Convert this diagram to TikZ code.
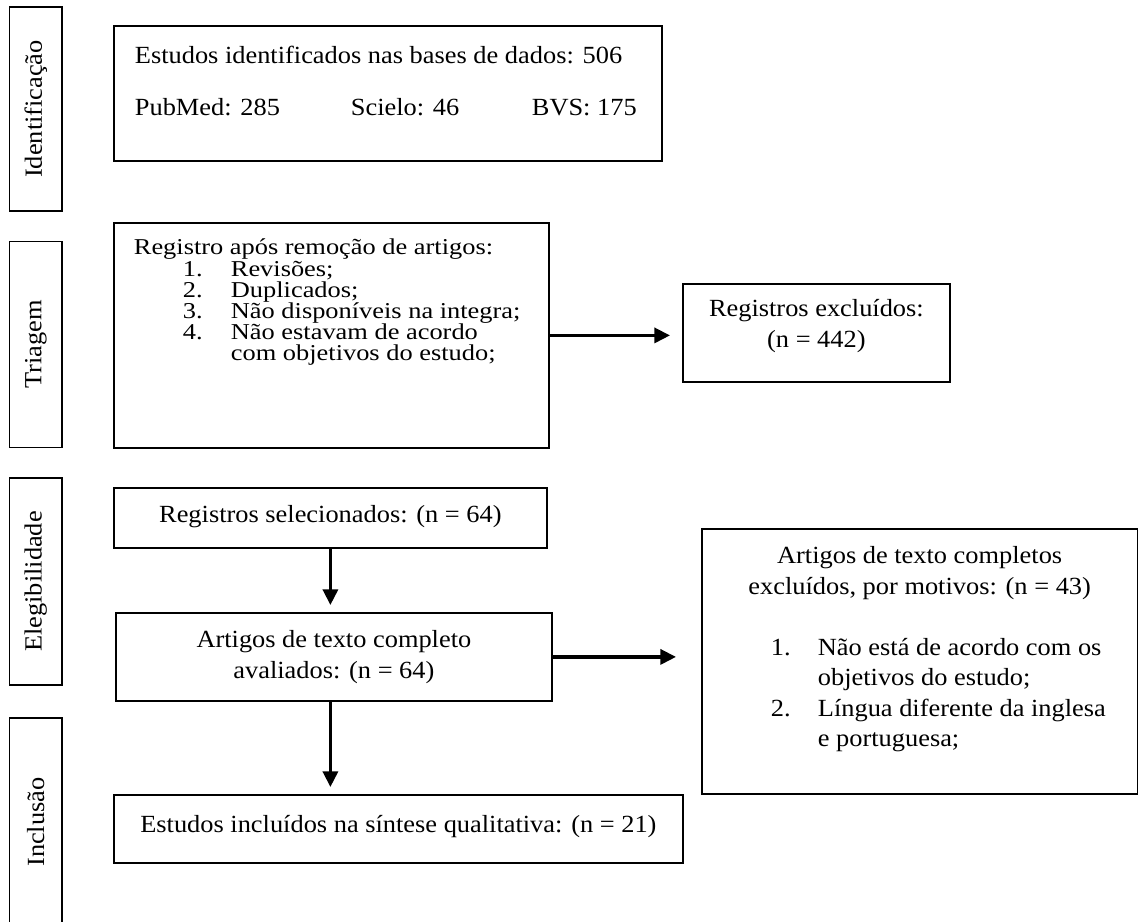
\documentclass[tikz,border=0pt]{standalone}
\usepackage{fontspec}
\setmainfont[FakeStretch=1.07]{Liberation Serif}
\newfontfamily\tightfont[FakeStretch=1.165]{Liberation Serif}
\usetikzlibrary{arrows.meta}
\newcommand\fs{\fontsize{12.33}{15.25}\selectfont}
\newcommand\fl{\rule{0pt}{10pt}}
\newcommand\li[3]{\hspace*{#1}\makebox[#2][l]{#3}}
\begin{document}
\begin{tikzpicture}[x=0.5pt,y=-0.5pt,
  box/.style={draw, line width=0.9pt, inner sep=0pt, anchor=north west, font=\fs},
  side/.style={draw, line width=0.9pt, inner sep=0pt, rotate=90, font=\fs, minimum height=26.25pt},
  arr/.style={line width=1.6pt, -{Triangle[length=7.8pt,width=7.5pt]}}]
\useasboundingbox (0,0) rectangle (1138,921);

% phase labels
\node[side, minimum width=102pt]   (sI) at (35.75,109)   {Identificação};
\node[side, minimum width=103pt]   (sT) at (35.75,344.5) {Triagem};
\node[side, minimum width=103.5pt] (sE) at (35.75,581.5) {Elegibilidade};
\node[side, minimum width=104pt]   (sC) at (35.75,822)   {Inclusão};

% boxes
\node[box] (id1) at (113,25) {\parbox[c][67.5pt][t]{274pt}{\vspace*{9pt}\leftskip=10.5pt
  \fl Estudos identificados nas bases de dados: 506\\[10.5pt]
  \makebox[108pt][l]{PubMed: 285}\makebox[90.5pt][l]{Scielo: 46}BVS: 175}};

\node[box] (tri1) at (113,222) {\parbox[c][112.5pt][t]{217.5pt}{\tightfont\fontsize{11.33}{10.6}\selectfont
  \lineskiplimit=-20pt\vspace*{6pt}\leftskip=10pt
  \fl Registro após remoção de artigos:\\
  \li{24.5pt}{24pt}{1.}Revisões;\\
  \li{24.5pt}{24pt}{2.}Duplicados;\\
  \li{24.5pt}{24pt}{3.}Não disponíveis na integra;\\
  \li{24.5pt}{24pt}{4.}Não estavam de acordo\\
  \hspace*{48.5pt}com objetivos do estudo;}};

\node[box] (exc1) at (682,283) {\parbox[c][49pt][t]{133.5pt}{\centering\vspace*{6.5pt}
  \fontsize{12.33}{15.5}\selectfont\fl Registros excluídos:\\(n = 442)}};

\node[box] (sel) at (113,487) {\parbox[c][30pt][t]{216.5pt}{\centering\vspace*{7.5pt}
  \fl Registros selecionados: (n = 64)}};

\node[box] (aval) at (115,612) {\parbox[c][44pt][t]{218pt}{\centering\vspace*{7.5pt}
  \fl Artigos de texto completo\\avaliados: (n = 64)}};

\node[box] (inc1) at (113,794) {\parbox[c][34pt][t]{284.5pt}{\centering\vspace*{9pt}
  \fl Estudos incluídos na síntese qualitativa: (n = 21)}};

\node[box] (exc2) at (701,528) {\parbox[c][132.5pt][t]{217.75pt}{\vspace*{7.5pt}
  {\centering\fl Artigos de texto completos\\excluídos, por motivos: (n = 43)\par}
  \vspace{15.25pt}
  \li{34.5pt}{23.5pt}{1.}Não está de acordo com os\\
  \hspace*{58pt}objetivos do estudo;\\
  \li{34.5pt}{23.5pt}{2.}Língua diferente da inglesa\\
  \hspace*{58pt}e portuguesa;}};

% arrow tips
\coordinate (a1) at (670,334.5);
\coordinate (a2) at (329.5,605);
\coordinate (a3) at (676,656);
\coordinate (a4) at (329.5,787);

\draw[arr] (tri1.east) -- (tri1.east -| a1);
\draw[arr] (sel.south) -- (sel.south |- a2);
\draw[arr] (aval.east) -- (aval.east -| a3);
\draw[arr] (sel.south |- aval.south) -- (sel.south |- a4);
\end{tikzpicture}
\end{document}
